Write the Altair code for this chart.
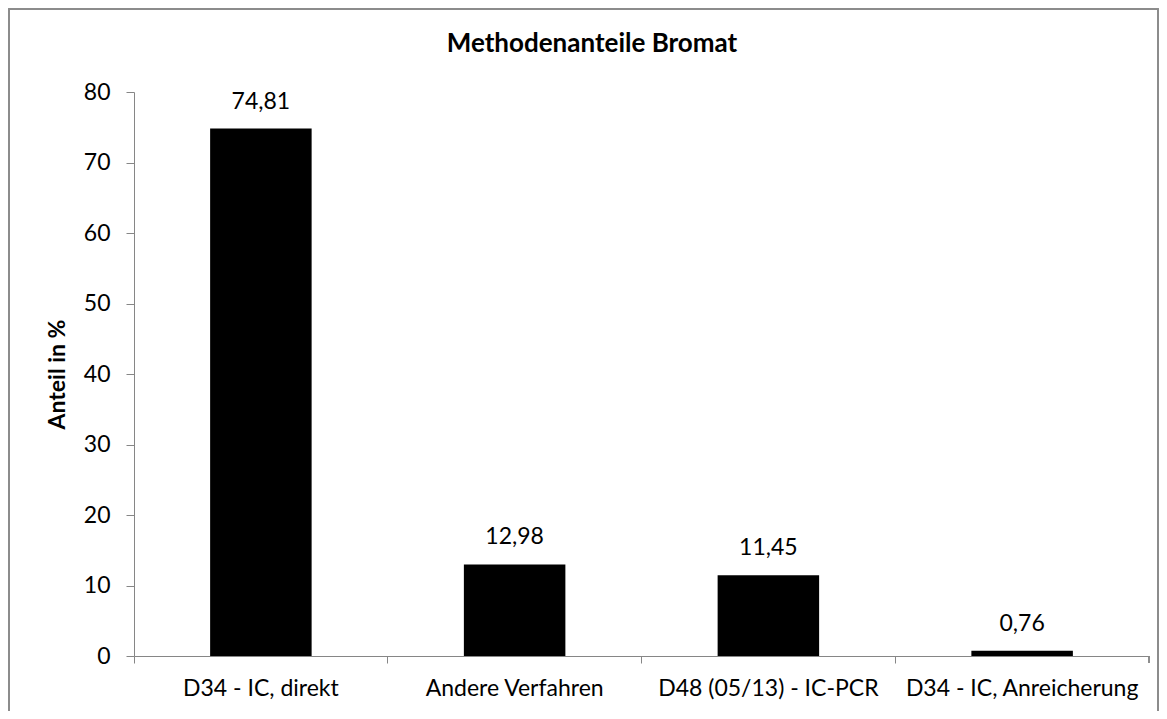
import altair as alt
import pandas as pd

chart_title = ["Methodenanteile Bromat"]
categories = ["D34 - IC, direkt", "Andere Verfahren", "D48 (05/13) - IC-PCR", "D34 - IC, Anreicherung"]
values = [74.81, 12.98, 11.45, 0.76]
y_ticks = [0, 10, 20, 30, 40, 50, 60, 70, 80]

df = pd.DataFrame({"Methode": categories, "Anteil": values})
tdf = pd.DataFrame({"t": chart_title})

FONT = "Lato"
AX = "#868686"
FS = 23

W, H = 1015, 564

x_enc = alt.X("Methode:N", sort=categories, title=None,
              scale=alt.Scale(paddingInner=0, paddingOuter=0),
              axis=alt.Axis(bandPosition=0, labelAngle=0, tickSize=7, labelPadding=14, labelLimit=0,
                            labelFontSize=FS, labelFont=FONT, labelColor="#000000",
                            domainColor=AX, tickColor=AX, grid=False))
y_enc = alt.Y("Anteil:Q", title="Anteil in %",
              scale=alt.Scale(domain=[0, 80], nice=False),
              axis=alt.Axis(values=y_ticks, tickSize=8, labelPadding=16, labelFontSize=FS,
                            labelFont=FONT, labelColor="#000000", domainColor=AX, tickColor=AX,
                            grid=False, titleFontSize=FS, titleFont=FONT, titleFontWeight="bold",
                            titleColor="#000000", titlePadding=14))

bars = alt.Chart(df).mark_bar(color="#000000", width=alt.RelativeBandSize(0.4)).encode(x=x_enc, y=y_enc)

labels = alt.Chart(df).mark_text(baseline="bottom", dy=-15, fontSize=FS, font=FONT, color="#000000").encode(
    x=alt.X("Methode:N", sort=categories),
    y="Anteil:Q",
    text=alt.Text("Anteil:Q", format=".2f"),
)

end_tick = alt.Chart(df).mark_rule(color=AX, strokeWidth=1).encode(
    x=alt.value(W), y=alt.value(H), y2=alt.value(H + 7)
)

frame = alt.Chart(df).mark_rect(fill=None, stroke="#8c8c8c", strokeWidth=1.5, clip=False).encode(
    x=alt.value(-125), x2=alt.value(1024), y=alt.value(-83), y2=alt.value(650)
)

title_mark = alt.Chart(tdf).mark_text(fontSize=26, font=FONT, fontWeight="bold", color="#000000",
                                      align="center", baseline="alphabetic").encode(
    x=alt.value(458), y=alt.value(-40), text="t:N"
)

chart = alt.layer(frame, bars, labels, end_tick, title_mark).properties(
    width=W, height=H,
    autosize=alt.AutoSizeParams(type="none"),
    padding={"left": 126, "top": 84, "right": 10, "bottom": 55},
).configure_view(stroke=None)

chart.save("out.html", embed_options={
    "renderer": "svg", "actions": False,
    "formatLocale": {"decimal": ",", "thousands": ".", "grouping": [3], "currency": ["", " €"]},
})
